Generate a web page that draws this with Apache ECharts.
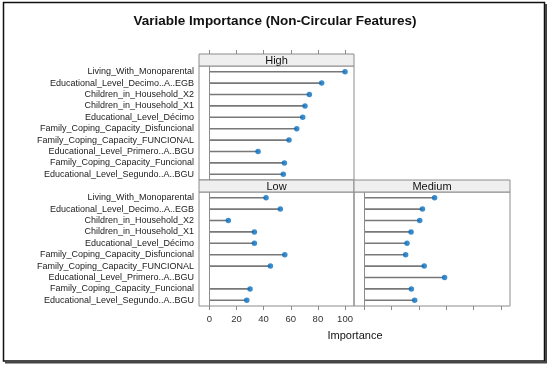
<!DOCTYPE html>
<html><head><meta charset="utf-8">
<script src="https://cdn.jsdelivr.net/npm/echarts@6/dist/echarts.min.js"></script>
<style>html,body{margin:0;padding:0;background:#fff}#c{width:550px;height:368px}</style>
</head><body><div id="c"></div>
<script>
const categories = [
  'Living_With_Monoparental',
  'Educational_Level_Decimo..A..EGB',
  'Children_in_Household_X2',
  'Children_in_Household_X1',
  'Educational_Level_Décimo',
  'Family_Coping_Capacity_Disfuncional',
  'Family_Coping_Capacity_FUNCIONAL',
  'Educational_Level_Primero..A..BGU',
  'Family_Coping_Capacity_Funcional',
  'Educational_Level_Segundo..A..BGU'
];
const highValues   = [100, 82.8, 73.7, 70.5, 68.8, 64.4, 58.7, 35.9, 55.3, 54.5];
const lowValues    = [41.8, 52.3, 14.0, 33.2, 33.2, 55.6, 45.0, null, 30.0, 27.6];
const mediumValues = [51.4, 42.5, 40.5, 34.2, 31.2, 30.2, 43.8, 58.7, 34.4, 36.8];
const panelNames = ['High', 'Low', 'Medium'];
const xTicks = [0, 20, 40, 60, 80, 100];
const xAxisTitle = 'Importance';
const chartTitle = 'Variable Importance (Non-Circular Features)';

const FONT = 'Liberation Sans, Arial, sans-serif';
const GREY = '#8c8c8c';
const DOT = '#0a6fc0';
const panelData = [highValues, lowValues, mediumValues];

const grids = [
  {left: 199, top: 66, width: 155, height: 114},
  {left: 199, top: 192, width: 155, height: 114},
  {left: 354, top: 192, width: 156, height: 114}
].map(g => Object.assign({show: true, borderColor: GREY, borderWidth: 1, containLabel: false, outerBoundsMode: 'none'}, g));

const xAxes = grids.map((g, i) => ({
  type: 'value', gridIndex: i, min: -7.6, max: 106.6,
  position: i === 0 ? 'top' : 'bottom',
  offset: i === 0 ? 12 : 0,
  splitLine: {show: false},
  axisLine: {show: false},
  axisTick: {show: true, length: 4, inside: false, customValues: xTicks, lineStyle: {color: GREY}},
  axisLabel: {show: i === 1, customValues: xTicks, fontSize: 9.5, color: '#333', fontFamily: FONT, margin: 8}
}));

const yAxes = grids.map((g, i) => ({
  type: 'category', gridIndex: i, data: categories, inverse: true,
  axisLine: {show: false}, axisTick: {show: false}, splitLine: {show: false},
  axisLabel: {show: i !== 2, interval: 0, fontSize: 9, color: '#222', fontFamily: FONT, margin: 5}
}));

const series = [];
panelData.forEach((vals, i) => {
  series.push({
    type: 'bar', xAxisIndex: i, yAxisIndex: i, data: vals, barWidth: 1.6,
    itemStyle: {color: '#787878'}, silent: true,
    markLine: {silent: true, symbol: 'none', label: {show: false},
      lineStyle: {color: GREY, width: 1, type: 'solid'}, data: [{xAxis: 0}]}
  });
  series.push({
    type: 'scatter', xAxisIndex: i, yAxisIndex: i, data: vals, symbolSize: 5.5,
    itemStyle: {color: DOT}, z: 5
  });
});

function strip(x, y, w, label) {
  return [
    {type: 'rect', shape: {x: x, y: y, width: w, height: 12}, style: {fill: '#efefef', stroke: GREY, lineWidth: 1}, z: 10},
    {type: 'text', x: x + w / 2, y: y + 6.5, style: {text: label, fontSize: 11, fontFamily: FONT, fill: '#111', align: 'center', verticalAlign: 'middle'}, z: 11}
  ];
}

const graphics = [].concat(
  strip(199, 54, 155, panelNames[0]),
  strip(199, 180, 155, panelNames[1]),
  strip(354, 180, 156, panelNames[2]),
  [
    {type: 'text', x: 355, y: 336, style: {text: xAxisTitle, fontSize: 11, fontFamily: FONT, fill: '#111', align: 'center', verticalAlign: 'middle'}},
    {type: 'text', x: 275, y: 21, style: {text: chartTitle, fontSize: 13.5, fontWeight: 'bold', fontFamily: FONT, fill: '#111', align: 'center', verticalAlign: 'middle'}},
    {type: 'rect', shape: {x: 3.5, y: 2.5, width: 541, height: 358.5}, style: {fill: null, stroke: '#111', lineWidth: 1.5}},
    {type: 'line', shape: {x1: 546, y1: 4, x2: 546, y2: 363}, style: {stroke: '#444', lineWidth: 2}},
    {type: 'line', shape: {x1: 5, y1: 362.5, x2: 547, y2: 362.5}, style: {stroke: '#444', lineWidth: 2}}
  ]
);

const chart = echarts.init(document.getElementById('c'), null, {renderer: 'canvas'});
chart.setOption({
  backgroundColor: '#fff',
  animation: false,
  grid: grids,
  xAxis: xAxes,
  yAxis: yAxes,
  series: series,
  graphic: graphics
});
</script>
</body></html>
